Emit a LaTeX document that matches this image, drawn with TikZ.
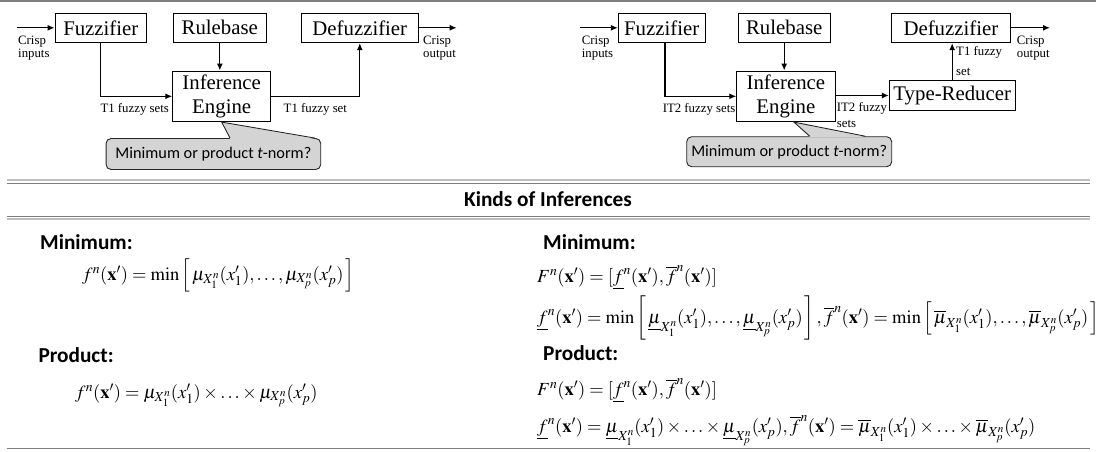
\documentclass[tikz,border=0pt]{standalone}
\usepackage{mathptmx}
\usepackage{fontspec}
\setmainfont{Liberation Serif}
\newfontfamily\calibri{Carlito}
\usetikzlibrary{positioning,calc,arrows.meta}
\definecolor{rulegray}{HTML}{7F7F7F}
\definecolor{rulelight}{HTML}{BFBFBF}
\definecolor{callfill}{HTML}{D4D4D4}
\tikzset{blk/.style={draw, line width=0.9pt, inner sep=0pt, align=center, font=\fontsize{20.8}{23.3}\selectfont}}
\tikzset{arr/.style={draw, line width=1.3pt, -{Latex[length=7pt,width=6pt]}}}
\tikzset{lbl/.style={inner sep=0pt, align=left, font=\fontsize{12.8}{13.3}\selectfont}}
\tikzset{bubble/.style={draw=black!85, fill=callfill, rounded corners=5pt, line width=0.9pt, inner sep=0pt, font=\calibri\fontsize{16.3}{18}\selectfont}}
\tikzset{hd/.style={inner sep=0pt, font=\calibri\bfseries\fontsize{21.3}{23}\selectfont}}
\tikzset{eq/.style={inner sep=0pt, anchor=base west, font=\fontsize{18.5}{20}\selectfont}}
\tikzset{sep/.style={line width=1.5pt, rulegray}}
\tikzset{sepl/.style={line width=2pt, rulelight}}

\begin{document}
\begin{tikzpicture}[x=1pt,y=-1pt]
\useasboundingbox (0,0) rectangle (1096,451);
% separators
\draw[sep] (0,0.75) -- (1096,0.75);
\draw[sepl] (6.5,180) -- (1090,180);
\draw[sep, line width=1.1pt] (6.5,183.3) -- (1090,183.3);
\draw[sep, line width=1.1pt] (6.5,216.6) -- (1090,216.6);
\draw[sepl] (6.5,219.3) -- (1090,219.3);
\draw[sep] (6.5,448.3) -- (1090,448.3);

% type-1 system
\node[blk, minimum width=91.7, minimum height=29.7] (fuz1) at (100.8,27.8) {Fuzzifier};
\node[blk, minimum width=93.7, minimum height=29.7] (rb1) at (219.8,27.8) {Rulebase};
\node[blk, minimum width=116.3, minimum height=29.7] (def1) at (359.8,27.8) {Defuzzifier};
\node[blk, minimum width=98, minimum height=50.7] (ie1) at (221.7,96.3) {Inference\\Engine};
\coordinate (in1) at (16.7,27.8);
\coordinate (out1) at (456.7,27.8);
\draw[arr] (in1) -- (fuz1);
\draw[arr] (fuz1.south) |- (ie1.west);
\draw[arr] (rb1.south) -- (rb1.south |- ie1.north);
\draw[arr] (ie1.east) -| (def1.south);
\draw[arr] (def1) -- (out1);
\node[lbl, anchor=north west] (ci1) at (18,35.5) {Crisp\\inputs};
\node[lbl, anchor=north west] (co1) at (423,35.5) {Crisp\\output};
\node[lbl, anchor=base east] (t1a) at (169,112) {T1 fuzzy sets};
\node[lbl, anchor=base west] (t1b) at (283.5,112) {T1 fuzzy set};
\node[bubble, minimum width=214.7, minimum height=31] (bub1) at (213.4,154) {Minimum or product {\itshape t}-norm?};
\fill[callfill] ($(bub1.north west)!0.577!(bub1.north east)+(0,0.8)$) -- (ie1.south) -- ($(bub1.north west)!0.97!(bub1.north east)+(0,0.8)$) -- cycle;
\draw[line width=0.9pt, black!85] ($(bub1.north west)!0.577!(bub1.north east)$) -- (ie1.south) -- ($(bub1.north west)!0.97!(bub1.north east)$);

% interval type-2 system
\node[blk, minimum width=86.7, minimum height=29.7] (fuz2) at (661.7,27.8) {Fuzzifier};
\node[blk, minimum width=91.7, minimum height=29.7] (rb2) at (784.2,27.8) {Rulebase};
\node[blk, minimum width=118.3, minimum height=29.7] (def2) at (950.9,27.8) {Defuzzifier};
\node[blk, minimum width=98.3, minimum height=50.7] (ie2) at (785.9,96.3) {Inference\\Engine};
\node[blk, minimum width=125.7, minimum height=30] (tr2) at (952.2,95.5) {Type-Reducer};
\coordinate (in2) at (580,27.8);
\coordinate (out2) at (1050,27.8);
\draw[arr] (in2) -- (fuz2);
\draw[arr] ($(fuz2.south)+(3.3,0)$) |- (ie2.west);
\draw[arr] (rb2.south) -- (rb2.south |- ie2.north);
\draw[arr] (ie2.east |- tr2.west) -- (tr2.west);
\draw[arr] (tr2.north) -- (tr2.north |- def2.south);
\draw[arr] (def2) -- (out2);
\node[lbl, anchor=north west] (ci2) at (581.7,35.5) {Crisp\\inputs};
\node[lbl, anchor=north west] (co2) at (1016.7,35.5) {Crisp\\output};
\node[lbl, anchor=base east] (t2a) at (735.5,112) {IT2 fuzzy sets};
\node[lbl, anchor=north west] (t2b) at (836.7,102) {IT2 fuzzy\\[3.2pt]sets};
\node[lbl, anchor=north west] (t2c) at (956,46.5) {T1 fuzzy\\[6.5pt]set};
\node[bubble, minimum width=205, minimum height=30] (bub2) at (789.2,151.7) {Minimum or product {\itshape t}-norm?};
\coordinate (tip2) at ($(ie2.south)+(8,0)$);
\fill[callfill] ($(bub2.north west)!0.6!(bub2.north east)+(0,0.8)$) -- (tip2) -- ($(bub2.north west)!0.87!(bub2.north east)+(0,0.8)$) -- cycle;
\draw[line width=0.9pt, black!85] ($(bub2.north west)!0.6!(bub2.north east)$) -- (tip2) -- ($(bub2.north west)!0.87!(bub2.north east)$);

% kinds of inferences
\node[hd] (kinds) at (548,199.5) {Kinds of Inferences};
\node[hd, anchor=west] (min1) at (40,241.7) {Minimum:};
\node[eq] (eqmin1) at (82,280) {$f^n(\mathbf{x}')=\min\left[\,\mu_{X_1^n}(x_1'),\ldots,\mu_{X_p^n}(x_p')\,\right]$};
\node[hd, anchor=west] (prod1) at (38.3,355) {Product:};
\node[eq] (eqprod1) at (75,398) {$f^n(\mathbf{x}')=\mu_{X_1^n}(x_1')\times\ldots\times\mu_{X_p^n}(x_p')$};

\node[hd, anchor=west] (min2) at (543,241.7) {Minimum:};
\node[eq] (eqmin2a) at (537,282) {$F^n(\mathbf{x}')=[\underline{f}^n(\mathbf{x}'),\overline{f}^n(\mathbf{x}')]$};
\node[eq] (eqmin2b) at (537,323) {$\underline{f}^n(\mathbf{x}')=\min\left[\,\underline{\mu}_{X_1^n}(x_1'),\ldots,\underline{\mu}_{X_p^n}(x_p')\,\right],\overline{f}^n(\mathbf{x}')=\min\left[\,\overline{\mu}_{X_1^n}(x_1'),\ldots,\overline{\mu}_{X_p^n}(x_p')\,\right]$};
\node[hd, anchor=west] (prod2) at (543,353.3) {Product:};
\node[eq] (eqprod2a) at (537,395) {$F^n(\mathbf{x}')=[\underline{f}^n(\mathbf{x}'),\overline{f}^n(\mathbf{x}')]$};
\node[eq] (eqprod2b) at (537,432) {$\underline{f}^n(\mathbf{x}')=\underline{\mu}_{X_1^n}(x_1')\times\ldots\times\underline{\mu}_{X_p^n}(x_p'),\overline{f}^n(\mathbf{x}')=\overline{\mu}_{X_1^n}(x_1')\times\ldots\times\overline{\mu}_{X_p^n}(x_p')$};
\end{tikzpicture}
\end{document}
